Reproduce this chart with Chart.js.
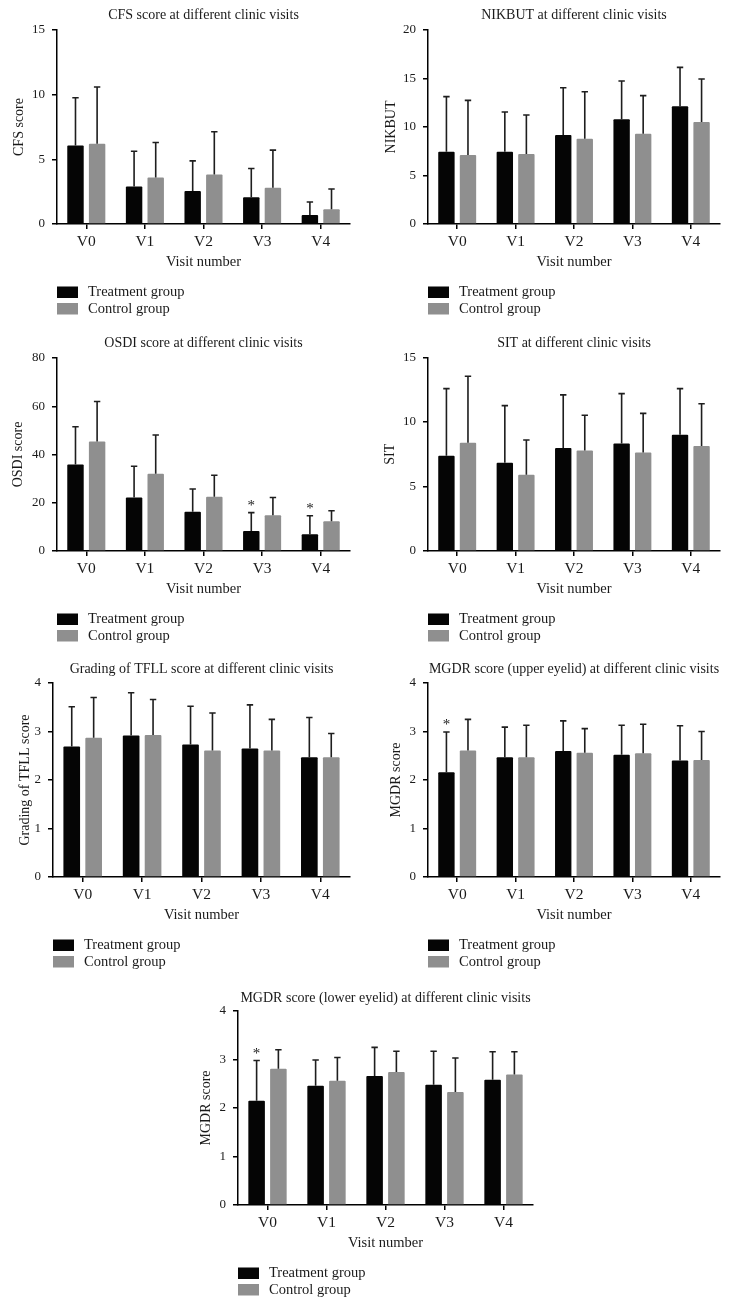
<!DOCTYPE html>
<html><head><meta charset="utf-8">
<script src="https://cdn.jsdelivr.net/npm/chart.js@4.4.1/dist/chart.umd.min.js"></script>
<style>
html,body{margin:0;padding:0;background:#fff;}
body{width:731px;height:1308px;overflow:hidden;position:relative;}
canvas{position:absolute;}
</style></head><body>
<script>
// ---------- data ----------
const visits = ['V0', 'V1', 'V2', 'V3', 'V4'];
const seriesNames = ['Treatment group', 'Control group'];

const cfsTreat = [6.07, 2.89, 2.56, 2.07, 0.70];
const cfsTreatSD = [3.69, 2.74, 2.32, 2.22, 1.00];
const cfsCtrl = [6.20, 3.59, 3.82, 2.81, 1.14];
const cfsCtrlSD = [4.39, 2.71, 3.31, 2.90, 1.57];

const nikTreat = [7.46, 7.46, 9.18, 10.79, 12.13];
const nikTreatSD = [5.67, 4.09, 4.87, 3.95, 4.02];
const nikCtrl = [7.11, 7.22, 8.80, 9.31, 10.52];
const nikCtrlSD = [5.64, 4.02, 4.84, 3.92, 4.43];

const osdiTreat = [35.9, 22.2, 16.3, 8.3, 6.9];
const osdiTreatSD = [15.6, 12.9, 9.4, 7.6, 7.7];
const osdiCtrl = [45.4, 32.0, 22.5, 14.8, 12.3];
const osdiCtrlSD = [16.6, 16.1, 8.9, 7.4, 4.4];
const osdiStars = [0, 0, 0, 1, 1];

const sitTreat = [7.38, 6.84, 7.98, 8.34, 9.02];
const sitTreatSD = [5.21, 4.43, 4.12, 3.86, 3.57];
const sitCtrl = [8.39, 5.91, 7.80, 7.64, 8.13];
const sitCtrlSD = [5.16, 2.69, 2.72, 3.03, 3.29];

const tfllTreat = [2.69, 2.92, 2.73, 2.65, 2.47];
const tfllTreatSD = [0.82, 0.88, 0.79, 0.90, 0.82];
const tfllCtrl = [2.87, 2.93, 2.61, 2.61, 2.47];
const tfllCtrlSD = [0.83, 0.73, 0.77, 0.64, 0.49];

const upTreat = [2.16, 2.47, 2.60, 2.52, 2.40];
const upTreatSD = [0.83, 0.62, 0.62, 0.61, 0.72];
const upCtrl = [2.61, 2.47, 2.56, 2.55, 2.41];
const upCtrlSD = [0.64, 0.66, 0.50, 0.60, 0.59];
const upStars = [1, 0, 0, 0, 0];

const lowTreat = [2.15, 2.46, 2.66, 2.48, 2.58];
const lowTreatSD = [0.83, 0.53, 0.59, 0.69, 0.58];
const lowCtrl = [2.81, 2.56, 2.74, 2.33, 2.69];
const lowCtrlSD = [0.39, 0.48, 0.43, 0.70, 0.47];
const lowStars = [1, 0, 0, 0, 0];

const noStars = [0, 0, 0, 0, 0];

// ---------- chart list ----------
const charts = [
  {title: 'CFS score at different clinic visits', yTitle: 'CFS score', max: 15, step: 5,
   t: cfsTreat, tsd: cfsTreatSD, c: cfsCtrl, csd: cfsCtrlSD, stars: noStars},
  {title: 'NIKBUT at different clinic visits', yTitle: 'NIKBUT', max: 20, step: 5,
   t: nikTreat, tsd: nikTreatSD, c: nikCtrl, csd: nikCtrlSD, stars: noStars},
  {title: 'OSDI score at different clinic visits', yTitle: 'OSDI score', max: 80, step: 20,
   t: osdiTreat, tsd: osdiTreatSD, c: osdiCtrl, csd: osdiCtrlSD, stars: osdiStars},
  {title: 'SIT at different clinic visits', yTitle: 'SIT', max: 15, step: 5,
   t: sitTreat, tsd: sitTreatSD, c: sitCtrl, csd: sitCtrlSD, stars: noStars},
  {title: 'Grading of TFLL score at different clinic visits', yTitle: 'Grading of TFLL score', max: 4, step: 1,
   t: tfllTreat, tsd: tfllTreatSD, c: tfllCtrl, csd: tfllCtrlSD, stars: noStars},
  {title: 'MGDR score (upper eyelid) at different clinic visits', yTitle: 'MGDR score', max: 4, step: 1,
   t: upTreat, tsd: upTreatSD, c: upCtrl, csd: upCtrlSD, stars: upStars},
  {title: 'MGDR score (lower eyelid) at different clinic visits', yTitle: 'MGDR score', max: 4, step: 1,
   t: lowTreat, tsd: lowTreatSD, c: lowCtrl, csd: lowCtrlSD, stars: lowStars}
];

// ---------- layout (page pixels of each plot area) ----------
const layouts = [
  {l: 57, r: 350, t: 30, b: 224, yTitleX: 19, titleY: 15.3},
  {l: 428, r: 720, t: 30, b: 224, yTitleX: 391.7, titleY: 15.3},
  {l: 57, r: 350, t: 358, b: 551, yTitleX: 18.3, titleY: 343.7},
  {l: 428, r: 720, t: 357.5, b: 551, yTitleX: 390, titleY: 343.3},
  {l: 53, r: 350, t: 683, b: 877, yTitleX: 25, titleY: 669.5},
  {l: 428, r: 720, t: 683, b: 877, yTitleX: 396.7, titleY: 669},
  {l: 238, r: 533, t: 1011, b: 1205, yTitleX: 206.7, titleY: 998.3}
];

const FONT = "'Liberation Serif', 'Times New Roman', serif";
const TEXT = '#1a1a1a';
const BLACK = '#050505';
const GREY = '#8f8f8f';

Chart.defaults.font.family = FONT;
Chart.defaults.color = TEXT;

const errorBarPlugin = {
  id: 'errorBars',
  afterDatasetsDraw(chart) {
    const ctx = chart.ctx;
    const y = chart.scales.y;
    ctx.save();
    ctx.strokeStyle = '#1e1e1e';
    ctx.lineWidth = 1.6;
    chart.data.datasets.forEach((ds, i) => {
      const meta = chart.getDatasetMeta(i);
      meta.data.forEach((bar, j) => {
        const v = ds.data[j];
        const top = y.getPixelForValue(v + ds.errors[j]);
        const base = y.getPixelForValue(v);
        ctx.beginPath();
        ctx.moveTo(bar.x, base);
        ctx.lineTo(bar.x, top);
        ctx.moveTo(bar.x - 3.2, top);
        ctx.lineTo(bar.x + 3.2, top);
        ctx.stroke();
        if (ds.stars && ds.stars[j]) {
          ctx.fillStyle = TEXT;
          ctx.font = '15px ' + FONT;
          ctx.textAlign = 'center';
          ctx.textBaseline = 'alphabetic';
          ctx.fillText('*', bar.x, top - 2.5);
        }
      });
    });
    ctx.restore();
  }
};

const legendPlugin = {
  id: 'stackLegend',
  afterDraw(chart) {
    const ctx = chart.ctx;
    const a = chart.chartArea;
    ctx.save();
    chart.data.datasets.forEach((ds, i) => {
      const by = a.bottom + 62.5 + i * 16.5;
      ctx.fillStyle = ds.backgroundColor;
      ctx.fillRect(a.left, by, 21, 11.5);
      ctx.fillStyle = TEXT;
      ctx.font = '14.5px ' + FONT;
      ctx.textAlign = 'left';
      ctx.textBaseline = 'middle';
      ctx.fillText(ds.label, a.left + 31, by + 6);
    });
    ctx.restore();
  }
};

charts.forEach((spec, k) => {
  const lay = layouts[k];
  const cl = Math.floor(lay.l - 50);
  const yW = lay.l - cl;
  const ct = Math.floor(lay.titleY - 14);
  const titlePadTop = lay.titleY - ct - 8.4;
  const titlePadBottom = lay.t - lay.titleY - 8.4;
  const xH = 48.4;
  const cw = Math.ceil(lay.r + 12 - cl);
  const ch = Math.ceil(lay.b + xH + 52 - ct);
  const padR = cl + cw - lay.r;
  const padB = ct + ch - lay.b - xH;

  const cv = document.createElement('canvas');
  cv.width = cw; cv.height = ch;
  cv.style.left = cl + 'px'; cv.style.top = ct + 'px';
  cv.style.width = cw + 'px'; cv.style.height = ch + 'px';
  document.body.appendChild(cv);

  new Chart(cv, {
    type: 'bar',
    data: {
      labels: visits,
      datasets: [
        {label: seriesNames[0], data: spec.t, errors: spec.tsd, stars: spec.stars,
         backgroundColor: BLACK, borderWidth: 0, borderRadius: 1,
         categoryPercentage: 0.738, barPercentage: 0.76},
        {label: seriesNames[1], data: spec.c, errors: spec.csd, stars: noStars,
         backgroundColor: GREY, borderWidth: 0, borderRadius: 1,
         categoryPercentage: 0.738, barPercentage: 0.76}
      ]
    },
    options: {
      responsive: false,
      animation: false,
      devicePixelRatio: 1,
      layout: {padding: {left: 0, top: 0, right: padR, bottom: padB}},
      plugins: {
        legend: {display: false},
        tooltip: {enabled: false},
        title: {
          display: true, text: spec.title, fullSize: false,
          color: TEXT, font: {size: 14, weight: 'normal', family: FONT, lineHeight: 1.2},
          padding: {top: titlePadTop, bottom: titlePadBottom}
        }
      },
      scales: {
        x: {
          type: 'category',
          offset: true,
          afterFit(s) { s.height = xH; },
          grid: {display: true, drawOnChartArea: false, drawTicks: true, tickLength: 5,
                 offset: false, color: '#000', lineWidth: 1.5},
          border: {display: true, color: '#000', width: 1.5},
          ticks: {color: TEXT, font: {size: 15.5, family: FONT, lineHeight: 1.2}, padding: 3.7, maxRotation: 0},
          title: {display: true, text: 'Visit number', color: TEXT,
                  font: {size: 14.5, family: FONT, lineHeight: 1.2},
                  padding: {top: 0, bottom: 1.7}}
        },
        y: {
          min: 0, max: spec.max,
          afterFit(s) { s.width = yW; },
          grid: {display: true, drawOnChartArea: false, drawTicks: true, tickLength: 5,
                 color: '#000', lineWidth: 1.5},
          border: {display: true, color: '#000', width: 1.5},
          ticks: {stepSize: spec.step, color: TEXT, font: {size: 13, family: FONT}, padding: 7},
          title: {display: true, text: spec.yTitle, color: TEXT,
                  font: {size: 14, family: FONT, lineHeight: 1.2},
                  padding: {top: lay.yTitleX - cl - 8.4, bottom: 0}}
        }
      }
    },
    plugins: [errorBarPlugin, legendPlugin]
  });
});
</script>
</body></html>
